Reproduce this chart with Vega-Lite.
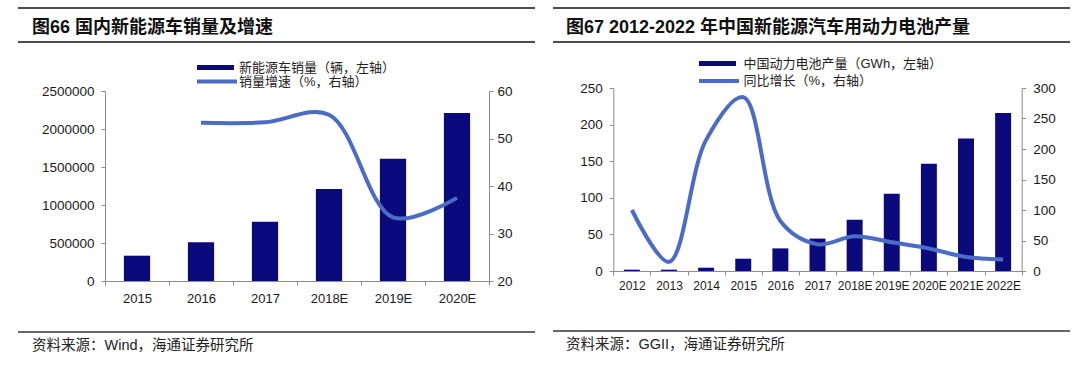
{
  "$schema": "https://vega.github.io/schema/vega-lite/v6.json",
  "background": "white",
  "padding": {"left": 17, "top": 7, "right": 0, "bottom": 0},
  "config": {
    "view": {"stroke": null},
    "axis": {
      "domainColor": "#8c8c8c",
      "tickColor": "#8c8c8c",
      "labelColor": "#1a1a1a",
      "labelFont": "Liberation Sans",
      "labelFontSize": 13.5,
      "grid": false,
      "tickSize": 4,
      "labelPadding": 7,
      "title": null
    },
    "legend": {
      "labelFont": "Liberation Sans, Noto Sans CJK SC",
      "labelFontSize": 13,
      "labelColor": "#222222",
      "labelLimit": 400,
      "padding": 0,
      "title": null
    }
  },
  "spacing": 16,
  "resolve": {"scale": {"fill": "independent", "stroke": "independent"}, "legend": {"fill": "independent", "stroke": "independent"}},
  "hconcat": [
    {
      "spacing": 18,
      "resolve": {"scale": {"fill": "independent", "stroke": "independent"}, "legend": {"fill": "independent", "stroke": "independent"}},
      "vconcat": [
        {
          "width": 517,
          "height": 34,
          "data": {"values": []},
          "mark": "point",
          "view": {"stroke": "#4d4d4d", "strokeWidth": 2, "strokeDash": [517, 34]},
          "title": {"text": "图66 国内新能源车销量及增速", "anchor": "start", "frame": "group", "orient": "top", "offset": -43, "dx": 14, "baseline": "alphabetic", "fontSize": 18, "font": "Liberation Sans, Noto Sans CJK SC", "fontWeight": "bold", "color": "#111111"}
        },
        {
          "width": 517,
          "height": 190,
          "data": {"values": [
            {"year": "2015", "sales": 333000, "growth": null},
            {"year": "2016", "sales": 509000, "growth": 53.3},
            {"year": "2017", "sales": 780000, "growth": 53.4},
            {"year": "2018E", "sales": 1210000, "growth": 55.0},
            {"year": "2019E", "sales": 1610000, "growth": 33.4},
            {"year": "2020E", "sales": 2210000, "growth": 37.5}
          ]},
          "layer": [
            {
              "mark": {"type": "bar", "width": {"band": 0.41}},
              "encoding": {
                "x": {"field": "year", "type": "ordinal", "sort": null, "scale": {"range": [87, 471], "paddingInner": 0, "paddingOuter": 0}, "axis": {"labelAngle": 0, "tickBand": "extent", "labelOverlap": false, "labelFontSize": 13, "labelPadding": 7}},
                "y": {"field": "sales", "type": "quantitative", "scale": {"domain": [0, 2500000]}, "axis": {"orient": "left", "offset": -87, "values": [0, 500000, 1000000, 1500000, 2000000, 2500000], "format": "d"}},
                "fill": {"datum": "新能源车销量（辆，左轴）", "type": "nominal", "scale": {"range": ["#0a0a7c"]}, "legend": {"orient": "none", "legendX": 191, "legendY": -30, "symbolType": "M-7.4,-1H7.4V1H-7.4Z", "symbolSize": 25, "symbolStrokeWidth": 0, "labelOffset": 17}}
              }
            },
            {
              "mark": {"type": "line", "interpolate": "catmull-rom", "strokeWidth": 4},
              "encoding": {
                "x": {"field": "year", "type": "ordinal", "sort": null},
                "y": {"field": "growth", "type": "quantitative", "scale": {"domain": [20, 60]}, "axis": {"orient": "right", "offset": -46, "values": [20, 30, 40, 50, 60], "labelPadding": 4}},
                "stroke": {"datum": "销量增速（%，右轴）", "type": "nominal", "scale": {"range": ["#4a6cc6"]}, "legend": {"orient": "none", "legendX": 191, "legendY": -16, "symbolType": "M-7.4,0H8.6", "symbolSize": 25, "symbolStrokeWidth": 4, "labelOffset": 17}}
              }
            }
          ],
          "resolve": {"scale": {"y": "independent"}}
        },
        {
          "width": 517,
          "height": 8,
          "data": {"values": []},
          "mark": "point",
          "view": {"stroke": "#333333", "strokeWidth": 1.5, "strokeDash": [0, 525, 517, 8]},
          "title": {"text": "资料来源：Wind，海通证券研究所", "anchor": "start", "frame": "group", "orient": "bottom", "offset": 7, "dx": 14, "baseline": "top", "fontSize": 14.5, "font": "Liberation Sans, Noto Sans CJK SC", "fontWeight": "normal", "color": "#222222"}
        }
      ]
    },
    {
      "spacing": 14,
      "resolve": {"scale": {"fill": "independent", "stroke": "independent"}, "legend": {"fill": "independent", "stroke": "independent"}},
      "vconcat": [
        {
          "width": 517,
          "height": 34,
          "data": {"values": []},
          "mark": "point",
          "view": {"stroke": "#4d4d4d", "strokeWidth": 2, "strokeDash": [517, 34]},
          "title": {"text": "图67 2012-2022 年中国新能源汽车用动力电池产量", "anchor": "start", "frame": "group", "orient": "top", "offset": -43, "dx": 13, "baseline": "alphabetic", "fontSize": 18, "font": "Liberation Sans, Noto Sans CJK SC", "fontWeight": "bold", "color": "#111111"}
        },
        {
          "width": 517,
          "height": 183,
          "data": {"values": [
            {"year": "2012", "battery": 1.8, "growth": 100},
            {"year": "2013", "battery": 1.8, "growth": 15},
            {"year": "2014", "battery": 4.5, "growth": 215},
            {"year": "2015", "battery": 16.8, "growth": 285},
            {"year": "2016", "battery": 30.9, "growth": 82},
            {"year": "2017", "battery": 44.3, "growth": 44},
            {"year": "2018E", "battery": 70.1, "growth": 57},
            {"year": "2019E", "battery": 105.6, "growth": 47},
            {"year": "2020E", "battery": 146.5, "growth": 37},
            {"year": "2021E", "battery": 181, "growth": 23},
            {"year": "2022E", "battery": 216, "growth": 19}
          ]},
          "layer": [
            {
              "mark": {"type": "bar", "width": {"band": 0.43}},
              "encoding": {
                "x": {"field": "year", "type": "ordinal", "sort": null, "scale": {"range": [60.3, 468.7], "paddingInner": 0, "paddingOuter": 0}, "axis": {"labelAngle": 0, "tickBand": "extent", "labelOverlap": false, "labelFontSize": 12, "labelPadding": 5}},
                "y": {"field": "battery", "type": "quantitative", "scale": {"domain": [0, 250]}, "axis": {"orient": "left", "offset": -60.3, "values": [0, 50, 100, 150, 200, 250]}},
                "fill": {"datum": "中国动力电池产量（GWh，左轴）", "type": "nominal", "scale": {"range": ["#0a0a7c"]}, "legend": {"orient": "none", "legendX": 158, "legendY": -31, "symbolType": "M-7.4,-1H7.4V1H-7.4Z", "symbolSize": 25, "symbolStrokeWidth": 0, "labelOffset": 19.5}}
              }
            },
            {
              "mark": {"type": "line", "interpolate": "catmull-rom", "strokeWidth": 4},
              "encoding": {
                "x": {"field": "year", "type": "ordinal", "sort": null},
                "y": {"field": "growth", "type": "quantitative", "scale": {"domain": [0, 300]}, "axis": {"orient": "right", "offset": -48.3, "values": [0, 50, 100, 150, 200, 250, 300]}},
                "stroke": {"datum": "同比增长（%，右轴）", "type": "nominal", "scale": {"range": ["#4a6cc6"]}, "legend": {"orient": "none", "legendX": 158, "legendY": -13.5, "symbolType": "M-7.4,0H8.6", "symbolSize": 25, "symbolStrokeWidth": 4, "labelOffset": 19.5}}
              }
            }
          ],
          "resolve": {"scale": {"y": "independent"}}
        },
        {
          "width": 517,
          "height": 25,
          "data": {"values": []},
          "mark": "point",
          "view": {"stroke": "#333333", "strokeWidth": 1.5, "strokeDash": [0, 542, 517, 25]},
          "title": {"text": "资料来源：GGII，海通证券研究所", "anchor": "start", "frame": "group", "orient": "bottom", "offset": 7, "dx": 13, "baseline": "top", "fontSize": 14.5, "font": "Liberation Sans, Noto Sans CJK SC", "fontWeight": "normal", "color": "#222222"}
        }
      ]
    }
  ]
}
